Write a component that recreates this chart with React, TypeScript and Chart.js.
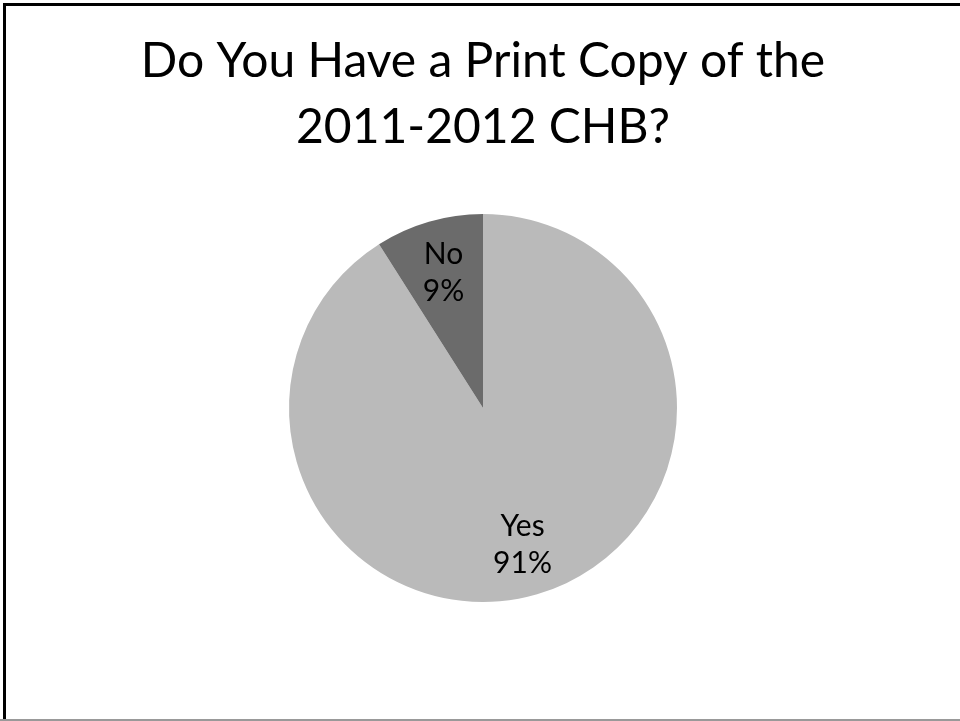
import React, { useEffect, useRef } from "react";
import { Chart, registerables } from "chart.js";

Chart.register(...registerables);

const titleLines = ["Do You Have a Print Copy of the", "2011-2012 CHB?"];
const categories = ["Yes", "No"];
const values = [91, 9];
const percentLabels = ["91%", "9%"];
const sliceColors = ["#bababa", "#6b6b6b"];

const FONT = "Lato, 'Open Sans', sans-serif";

const sliceLabelPlugin = {
  id: "sliceLabels",
  afterDatasetsDraw(chart: any) {
    const ctx = chart.ctx;
    const meta = chart.getDatasetMeta(0);
    ctx.save();
    ctx.fillStyle = "#000";
    ctx.font = `30px ${FONT}`;
    ctx.textAlign = "center";
    ctx.textBaseline = "middle";
    meta.data.forEach((arc: any, i: number) => {
      const p = arc.getProps(["x", "y", "startAngle", "endAngle", "outerRadius"], true);
      const mid = (p.startAngle + p.endAngle) / 2;
      const r = p.outerRadius * 0.73;
      const cx = p.x + Math.cos(mid) * r;
      const cy = p.y + Math.sin(mid) * r;
      ctx.fillText(categories[i], cx, cy - 18);
      ctx.fillText(percentLabels[i], cx, cy + 19);
    });
    ctx.restore();
  },
};

export default function App() {
  const ref = useRef<HTMLCanvasElement>(null);
  useEffect(() => {
    if (!ref.current) return;
    const chart = new Chart(ref.current, {
      type: "pie",
      data: {
        labels: categories,
        datasets: [
          {
            data: values,
            backgroundColor: sliceColors,
            borderWidth: 0,
          },
        ],
      },
      options: {
        animation: false,
        responsive: false,
        maintainAspectRatio: false,
        layout: { padding: { left: 6, right: 0, top: 0, bottom: 119 } },
        plugins: {
          legend: { display: false },
          tooltip: { enabled: false },
          title: {
            display: true,
            text: titleLines,
            color: "#000",
            font: { family: FONT, size: 48, weight: "normal", lineHeight: 66 / 48 },
            padding: { top: 29, bottom: 53 },
          },
        },
      },
      plugins: [sliceLabelPlugin],
    });
    return () => chart.destroy();
  }, []);
  return (
    <div style={{ position: "fixed", left: 0, top: 0, width: 960, height: 721, background: "#fff" }}>
      <canvas ref={ref} width={960} height={721} style={{ position: "absolute", left: 0, top: 0 }} />
      <div style={{ position: "absolute", left: 3, top: 3, width: 957, height: 3, background: "#000" }} />
      <div style={{ position: "absolute", left: 3, top: 3, width: 3, height: 716, background: "#000" }} />
      <div style={{ position: "absolute", left: 0, top: 719, width: 960, height: 2, background: "#999" }} />
    </div>
  );
}
